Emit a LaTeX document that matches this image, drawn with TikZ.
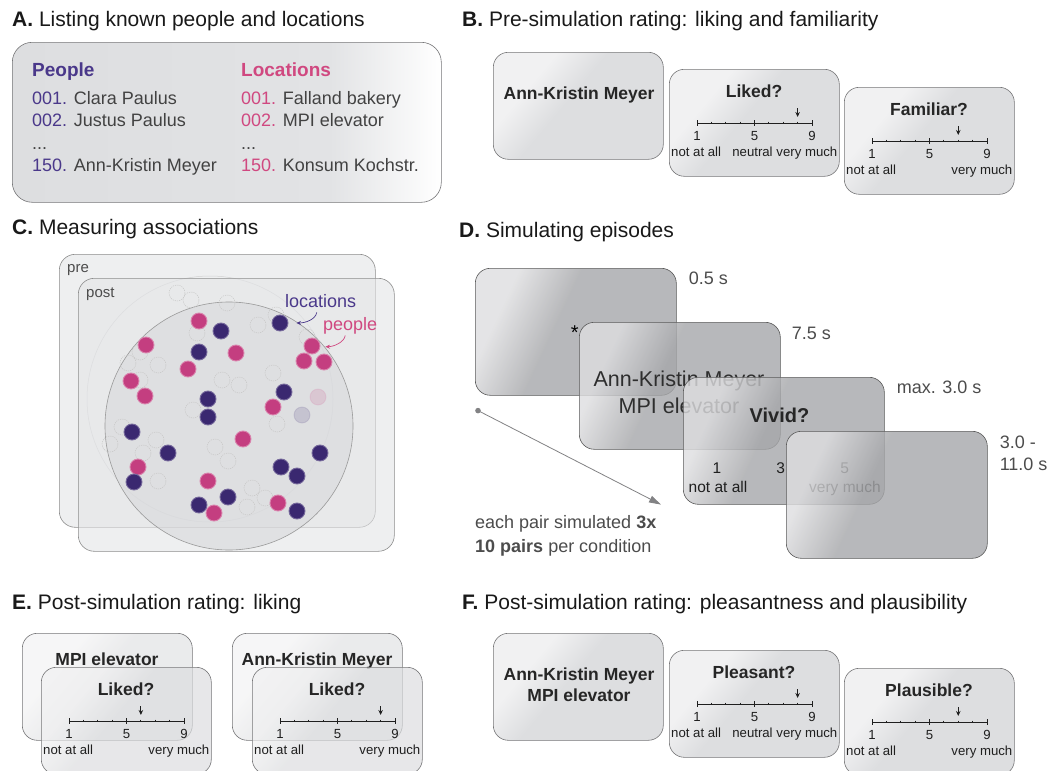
\documentclass[tikz,border=0pt]{standalone}
\usepackage{fontspec}
\setmainfont{Liberation Sans}
\usepackage{xcolor}
\usetikzlibrary{arrows.meta, calc, positioning}

\definecolor{listpurple}{RGB}{74,56,138}
\definecolor{listpink}{RGB}{208,72,128}
\definecolor{dotpurple}{RGB}{58,40,112}
\definecolor{dotpink}{RGB}{196,62,128}
\definecolor{cardgray}{RGB}{221,222,224}
\definecolor{cardmid}{RGB}{226,227,229}
\definecolor{cardlight}{RGB}{241,241,242}
\definecolor{scrgray}{RGB}{166,167,170}
\definecolor{scrlight}{RGB}{222,222,224}
\definecolor{setgray}{RGB}{228,229,231}
\definecolor{circgray}{RGB}{214,215,218}
\definecolor{textgray}{RGB}{66,66,66}
\definecolor{edgegray}{RGB}{118,118,120}
\definecolor{armgray}{RGB}{130,130,132}

\pgfdeclarehorizontalshading{listshade}{100bp}{color(0bp)=(cardgray); color(25bp)=(cardgray); color(62bp)=(cardmid); color(75bp)=(white); color(100bp)=(white)}
\pgfdeclarehorizontalshading{cardshade}{100bp}{color(0bp)=(cardlight); color(32bp)=(cardlight); color(46bp)=(cardgray); color(100bp)=(cardgray)}
\pgfdeclarehorizontalshading{screenshade}{100bp}{color(0bp)=(scrlight); color(28bp)=(scrlight); color(44bp)=(scrgray); color(100bp)=(scrgray)}

\tikzset{
  paneltitle/.style={font=\fontsize{21}{25}\selectfont, text=black!90, anchor=base west, inner sep=0pt},
  card/.style={draw=edgegray, line width=0.6pt, rounded corners=15pt, shading=cardshade, shading angle=-40,
    minimum width=170pt, minimum height=107pt, inner sep=0pt, anchor=north west},
  cardq/.style={font=\fontsize{17.5}{21}\selectfont\bfseries, text=black!85, inner sep=0pt, anchor=base},
  scalenum/.style={font=\fontsize{13.2}{15}\selectfont, text=black!88, inner sep=0pt, anchor=base},
  scaleline/.style={line width=0.9pt, black!88},
  marker/.style={-{Stealth[length=5pt, width=4.5pt]}, line width=0.8pt, black!88},
  listbox/.style={draw=edgegray, line width=0.6pt, rounded corners=20pt, shading=listshade,
    minimum width=429pt, minimum height=160pt, inner sep=0pt, anchor=north west},
  listhead/.style={font=\fontsize{19}{23}\selectfont\bfseries, anchor=base west, inner sep=0pt},
  listitem/.style={font=\fontsize{18}{22}\selectfont, text=textgray, anchor=base west, inner sep=0pt},
  setrect/.style={draw=black!45, line width=0.6pt, rounded corners=16pt, fill=setgray, fill opacity=0.6,
    minimum width=316pt, minimum height=273pt, inner sep=0pt, anchor=north west},
  setlbl/.style={font=\fontsize{15}{18}\selectfont, text=black!70, anchor=base west, inner sep=0pt},
  dotlbl/.style={font=\fontsize{18}{22}\selectfont, anchor=base west, inner sep=0pt},
  pkdot/.style={circle, inner sep=0pt, minimum size=16pt, fill=dotpink, draw=dotpink!65!white, line width=0.9pt},
  lcdot/.style={circle, inner sep=0pt, minimum size=16pt, fill=dotpurple, draw=dotpurple!70!white, line width=0.9pt},
  ghost/.style={circle, inner sep=0pt, minimum size=16pt, draw=black!22, line width=0.5pt, dash pattern=on 1.2pt off 1pt},
  lblarrow/.style={-{Stealth[length=4.5pt, width=4pt]}, line width=0.7pt},
  screen/.style={draw=black!65, line width=0.6pt, rounded corners=15pt, shading=screenshade, shading angle=-25,
    fill opacity=0.8, minimum width=201pt, minimum height=127pt, inner sep=0pt, anchor=north west},
  scrtext/.style={font=\fontsize{21.5}{25}\selectfont, text=black!82, inner sep=0pt, anchor=base},
  scrnum/.style={font=\fontsize{15.5}{18}\selectfont, text=black!88, inner sep=0pt, anchor=base},
  timelbl/.style={font=\fontsize{18}{22}\selectfont, text=black!70, inner sep=0pt, anchor=base west},
}

% rating card: name, top-left, question, marked tick, middle label, extra style
\newcommand{\ratecard}[6]{%
  \node[card, #6] (#1) at (#2) {};
  \node[cardq] (#1q) at ([shift={(85,28)}]#1.north west) {#3};
  \coordinate (#1s) at ([shift={(28,54)}]#1.north west);
  \coordinate (#1e) at ([shift={(143,54)}]#1.north west);
  \draw[scaleline] (#1s) -- (#1e);
  \foreach \k in {1,2,3,5,6,7} \draw[scaleline] ($(#1s)!\k/8!(#1e)$) ++(0,-1.4) -- ++(0,2.8);
  \foreach \k in {0,4,8} \draw[scaleline] ($(#1s)!\k/8!(#1e)$) ++(0,-3) -- ++(0,6);
  \draw[marker] ($(#1s)!{(#4-1)/8}!(#1e)+(0,-15)$) -- ++(0,9);
  \node[scalenum] (#1n1) at ($(#1s)+(0,17.5)$) {1};
  \node[scalenum] (#1n5) at ($(#1s)!0.5!(#1e)+(0,17.5)$) {5};
  \node[scalenum] (#1n9) at ($(#1e)+(0,17.5)$) {9};
  \node[scalenum, anchor=base west] (#1lo) at ([shift={(2,87.5)}]#1.north west) {not at all};
  \node[scalenum, anchor=base east] (#1hi) at ([shift={(168.5,87.5)}]#1.north west) {very much};
  \if\relax\detokenize{#5}\relax\else
    \node[scalenum] (#1mid) at ($(#1s)!0.5!(#1e)+(-2,33.5)$) {#5};
  \fi
}

\begin{document}
\begin{tikzpicture}[x=1pt, y=-1pt]
  \useasboundingbox (0,0) rectangle (1050,771);
  \fill[white] (0,0) rectangle (1050,771);

  % A. lists
  \node[paneltitle] (tA) at (12,27) {\textbf{A.} Listing known people and locations};
  \node[listbox] (listA) at (12,42) {};
  \node[listhead, text=listpurple] (pplH) at (32,76) {People};
  \node[listhead, text=listpink] (locH) at (241,76) {Locations};
  \foreach \y/\idx/\who in {104/001./Clara Paulus, 126/002./Justus Paulus, 171/150./Ann-Kristin Meyer}
    \node[listitem] (ppl\y) at (32,\y) {\textcolor{listpurple}{\idx} \who};
  \foreach \y/\idx/\who in {104/001./Falland bakery, 126/002./MPI elevator, 171/150./Konsum Kochstr.}
    \node[listitem] (loc\y) at (241,\y) {\textcolor{listpink}{\idx} \who};
  \node[listitem] (pplDots) at (32,149) {...};
  \node[listitem] (locDots) at (241,149) {...};

  % B. pre-simulation rating
  \node[paneltitle] (tB) at (462,27) {\textbf{B.} Pre-simulation rating: liking and familiarity};
  \node[card] (bname) at (493,52) {};
  \node[cardq] (bnamet) at ([shift={(86,47)}]bname.north west) {Ann-Kristin Meyer};
  \ratecard{bliked}{669,69}{Liked?}{8}{neutral}{}
  \ratecard{bfam}{844,87}{Familiar?}{7}{}{}

  % C. associations
  \node[paneltitle] (tC) at (12,234) {\textbf{C.} Measuring associations};
  \node[setrect] (preR) at (59,254) {};
  \node[setlbl] (preL) at (67,272) {pre};
  \draw[black!18, line width=0.5pt] (210,399) circle[radius=123];
  \node[setrect] (postR) at (78,278) {};
  \node[setlbl] (postL) at (86,297) {post};
  \node[circle, minimum size=248pt, inner sep=0pt, draw=black!40, line width=0.6pt, fill=circgray, fill opacity=0.55] (postC) at (229,426) {};
  \foreach \p [count=\i] in {(177,293),(191,300),(227,303),(258,325),(276,315),(140,352),(128,363),(158,365),(273,373),
      (222,380),(239,385),(140,380),(193,410),(277,424),(122,427),(156,440),(143,453),(110,444),(215,447),(228,461),
      (158,481),(252,488),(265,498),(247,507),(197,333),(307,337)}
    \node[ghost] (gh\i) at \p {};
  \node[pkdot, fill opacity=0.15, draw opacity=0.2] (pkfaint) at (318,397) {};
  \node[lcdot, fill opacity=0.15, draw opacity=0.2] (lcfaint) at (302,415) {};
  \foreach \p [count=\i] in {(199,321),(146,345),(236,353),(188,369),(131,381),(145,396),(312,346),(304,361),
      (324,362),(273,407),(243,439),(138,467),(208,481),(214,513),(278,503)}
    \node[pkdot] (pk\i) at \p {};
  \foreach \p [count=\i] in {(280,323),(221,331),(199,352),(284,392),(208,399),(208,417),(132,432),(168,453),
      (134,482),(320,453),(281,467),(297,476),(228,497),(199,505),(297,511)}
    \node[lcdot] (lc\i) at \p {};
  \node[dotlbl, text=listpurple] (locL) at (285,307) {locations};
  \node[dotlbl, text=listpink] (pplL) at (323,330) {people};
  \draw[lblarrow, listpurple] ([shift={(-4,5)}]locL.south) .. controls +(-1,7) and +(9,0) .. ([shift={(8,0)}]lc1.east);
  \draw[lblarrow, listpink] ([shift={(-5,1.5)}]pplL.south) .. controls +(-1,7) and +(8,0) .. ([shift={(5,0.7)}]pk7.east);

  % D. simulation sequence
  \node[paneltitle] (tD) at (459,237) {\textbf{D.} Simulating episodes};
  \node[screen] (scr1) at (475,268) {};
  \node[font=\fontsize{20}{24}\selectfont, inner sep=0pt] (fix) at ([shift={(-1,1)}]scr1.center) {*};
  \node[timelbl] (tm1) at ([shift={(12,16.4)}]scr1.north east) {0.5 s};
  \node[screen] (scr2) at ([shift={(104,54)}]scr1.north west) {};
  \node[scrtext] (scrName) at ([shift={(100,64.7)}]scr2.north west) {Ann-Kristin Meyer};
  \node[scrtext] (scrLoc) at ([shift={(100,91.4)}]scr2.north west) {MPI elevator};
  \node[timelbl] (tm2) at ([shift={(11,17.4)}]scr2.north east) {7.5 s};
  \node[screen] (scr3) at ([shift={(104,55)}]scr2.north west) {};
  \node[font=\fontsize{20}{24}\selectfont\bfseries, text=black!85, inner sep=0pt, anchor=base] (vivid) at ([shift={(96.5,45)}]scr3.north west) {Vivid?};
  \node[scrnum] (vn1) at ([shift={(34,96.2)}]scr3.north west) {1};
  \node[scrnum] (vn3) at ([shift={(97.7,96.2)}]scr3.north west) {3};
  \node[scrnum] (vn5) at ([shift={(161.6,96.2)}]scr3.north west) {5};
  \node[scrnum, anchor=base west] (vlo) at ([shift={(5.5,115.3)}]scr3.north west) {not at all};
  \node[scrnum, anchor=base west] (vhi) at ([shift={(126,115.3)}]scr3.north west) {very much};
  \node[timelbl] (tm3) at ([shift={(12,16)}]scr3.north east) {max. 3.0 s};
  \node[screen] (scr4) at ([shift={(103,54)}]scr3.north west) {};
  \node[timelbl] (tm4a) at ([shift={(12,17)}]scr4.north east) {3.0 -};
  \node[timelbl] (tm4b) at ([shift={(12,39.4)}]scr4.north east) {11.0 s};
  \coordinate (armstart) at ([shift={(3,15)}]scr1.south west);
  \coordinate (armend) at ([xshift=-22pt]scr3.south west);
  \fill[armgray] (armstart) circle[radius=2.8];
  \draw[armgray, line width=0.8pt, -{Triangle[length=12pt, width=7pt]}] (armstart) -- (armend);
  \node[timelbl] (rep1) at ([shift={(0,133)}]scr1.south west) {each pair simulated \textbf{3x}};
  \node[timelbl] (rep2) at ([shift={(0,156.5)}]scr1.south west) {\textbf{10 pairs} per condition};

  % E. post-simulation liking
  \node[paneltitle] (tE) at (12,609) {\textbf{E.} Post-simulation rating: liking};
  \node[card, fill opacity=0.6] (eback1) at (22,633) {};
  \node[cardq] (eback1t) at ([shift={(85,32.3)}]eback1.north west) {MPI elevator};
  \ratecard{eliked1}{41,667}{Liked?}{6}{}{fill opacity=0.7}
  \node[card, fill opacity=0.6] (eback2) at (232,633) {};
  \node[cardq] (eback2t) at ([shift={(85,32.3)}]eback2.north west) {Ann-Kristin Meyer};
  \ratecard{eliked2}{252,667}{Liked?}{8}{}{fill opacity=0.7}

  % F. post-simulation pleasantness and plausibility
  \node[paneltitle] (tF) at (462,609) {\textbf{F.} Post-simulation rating: pleasantness and plausibility};
  \node[card] (fname) at (493,633) {};
  \node[cardq] (fnamet1) at ([shift={(86,47)}]fname.north west) {Ann-Kristin Meyer};
  \node[cardq] (fnamet2) at ([shift={(86,68)}]fname.north west) {MPI elevator};
  \ratecard{fpleas}{669,650}{Pleasant?}{8}{neutral}{}
  \ratecard{fplaus}{844,668}{Plausible?}{7}{}{}
\end{tikzpicture}
\end{document}
